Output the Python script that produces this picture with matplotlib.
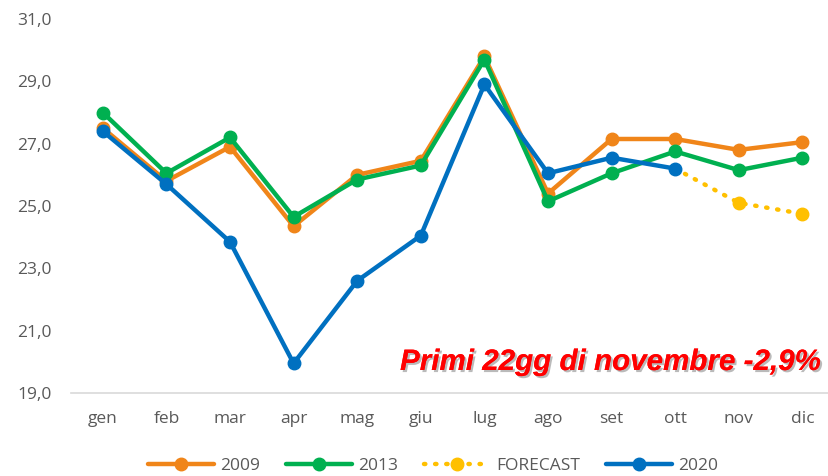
import matplotlib
matplotlib.use("Agg")
import matplotlib.pyplot as plt
import matplotlib.patheffects as pe
from matplotlib.lines import Line2D

# --- DATI ---
mesi = ["gen", "feb", "mar", "apr", "mag", "giu", "lug", "ago", "set", "ott", "nov", "dic"]
serie_2009 = [27.5, 25.8, 26.9, 24.35, 26.0, 26.45, 29.8, 25.4, 27.15, 27.15, 26.8, 27.05]
serie_2013 = [28.0, 26.05, 27.2, 24.65, 25.85, 26.3, 29.7, 25.15, 26.05, 26.75, 26.15, 26.55]
serie_2020 = [27.4, 25.7, 23.85, 19.95, 22.6, 24.05, 28.9, 26.05, 26.55, 26.2]
mesi_forecast = ["ott", "nov", "dic"]
serie_forecast = [26.2, 25.1, 24.75]
y_ticks = [19, 21, 23, 25, 27, 29, 31]
nota = "Primi 22gg di novembre -2,9%"

# --- COLORI ---
ARANCIO = "#F08519"
VERDE = "#00B050"
BLU = "#0070C0"
GIALLO = "#FFC000"
GRIGIO = "#595959"

plt.rcParams['font.family'] = ['Open Sans', 'DejaVu Sans']

fig = plt.figure(figsize=(8.29, 4.76), dpi=100)
ax = fig.add_axes([71/829, 1 - 393/476, (829 - 71)/829, (393 - 19)/476])

x = list(range(len(mesi)))
x_fc = [mesi.index(m) for m in mesi_forecast]
punteggiato = (0, (0.3, 2.2))

stile = dict(linewidth=3.2, marker="o", markersize=9, solid_capstyle="round")
ax.plot(x, serie_2009, color=ARANCIO, label="2009", **stile)
ax.plot(x, serie_2013, color=VERDE, label="2013", **stile)
# forecast: linea punteggiata + marker solo sui mesi previsti
ax.plot(x_fc, serie_forecast, color=GIALLO, linewidth=3.2, linestyle=punteggiato,
        dash_capstyle="round")
ax.plot(x_fc[1:], serie_forecast[1:], color=GIALLO, marker="o", markersize=9, linestyle="none")
ax.plot(x[:len(serie_2020)], serie_2020, color=BLU, label="2020", **stile)

ax.set_xlim(-0.5, -0.5 + (829 - 71) / 63.6)
ax.set_ylim(19, 31)
ax.set_xticks(x)
ax.set_xticklabels(mesi)
ax.set_yticks(y_ticks)
ax.set_yticklabels([f"{v:.1f}".replace(".", ",") for v in y_ticks])
ax.tick_params(axis="both", length=0, labelsize=12.5, colors=GRIGIO)
ax.tick_params(axis="x", pad=13)
ax.tick_params(axis="y", pad=14)

for lato in ["top", "right", "left"]:
    ax.spines[lato].set_visible(False)
ax.spines["bottom"].set_color("#D9D9D9")
ax.spines["bottom"].set_linewidth(1.2)

# Nota in rosso con ombra
fig.text(822/829, 1 - 362/476, nota, fontsize=21.3, color="red",
         fontweight="bold", fontstyle="italic", family=["Liberation Sans", "DejaVu Sans"],
         ha="right", va="center",
         path_effects=[pe.withSimplePatchShadow(offset=(1.5, -1.5), shadow_rgbFace="#777777", alpha=0.5),
                       pe.Normal()])

# Legenda
handles, labels = ax.get_legend_handles_labels()
h_fc = Line2D([], [], color=GIALLO, linewidth=3.2, linestyle=punteggiato,
              dash_capstyle="round", marker="o", markersize=9)
handles = [handles[0], handles[1], h_fc, handles[2]]
labels = ["2009", "2013", "FORECAST", "2020"]
leg = fig.legend(handles, labels, loc="center", bbox_to_anchor=(433/829, 1 - 466/476),
                 ncol=4, frameon=False, handlelength=3.8, columnspacing=1.5,
                 handletextpad=0.35, fontsize=12.5, numpoints=1)
for t in leg.get_texts():
    t.set_color(GRIGIO)

fig.savefig("out.png", dpi=100)
